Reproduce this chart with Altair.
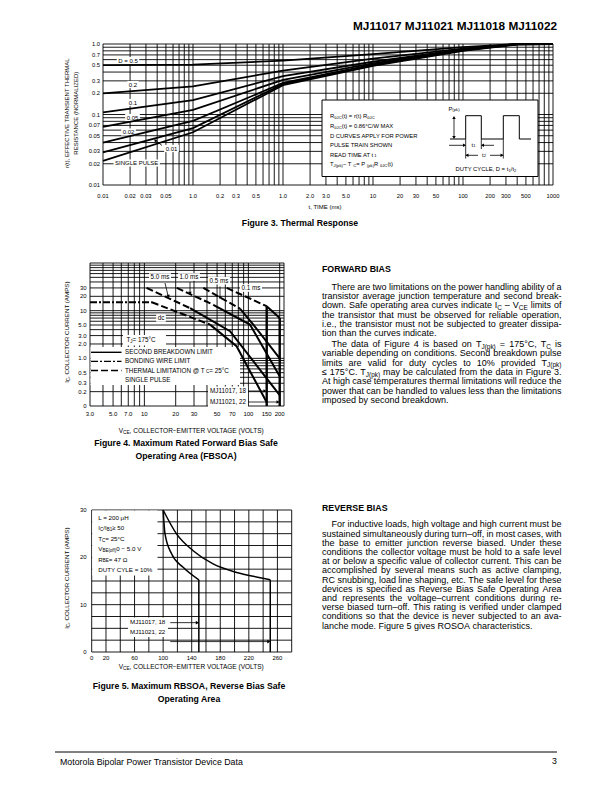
import altair as alt
import pandas as pd

OFF = 8          # page margin: page coordinate -> chart coordinate
FONT = "Liberation Sans"

# ======================= DATA =======================
# ---- Figure 3: thermal response r(t) vs t (ms) ----
T_MS = [0.01, 0.1, 1, 10, 100, 400, 1000]
R_D050 = [0.50, 0.51, 0.58, 0.72, 0.90, 1.0, 1.0]
R_D020 = [0.20, 0.25, 0.42, 0.62, 0.86, 1.0, 1.0]
R_D010 = [0.107, 0.16, 0.35, 0.56, 0.84, 1.0, 1.0]
R_D005 = [0.067, 0.116, 0.31, 0.53, 0.83, 1.0, 1.0]
R_D002 = [0.040, 0.081, 0.28, 0.51, 0.82, 1.0, 1.0]
R_D001 = [0.029, 0.064, 0.27, 0.50, 0.81, 0.99, 1.0]
R_SINGLE = [0.022, 0.056, 0.26, 0.49, 0.80, 0.98, 1.0]
X3_TICKS = [0.01, 0.02, 0.03, 0.05, 0.1, 0.2, 0.3, 0.5, 1, 2, 3, 5, 10, 20, 30, 50, 100, 200, 300, 500, 1000]
X3_LABELS = ["0.01", "0.02", "0.03", "0.05", "1.0", "0.2", "0.3", "0.5", "1.0", "2.0", "3.0", "5.0",
             "10", "20", "30", "50", "100", "200", "300", "500", "1000"]
Y3_TICKS = [0.01, 0.02, 0.03, 0.05, 0.07, 0.1, 0.2, 0.3, 0.5, 0.7, 1.0]
Y3_LABELS = ["0.01", "0.02", "0.03", "0.05", "0.07", "0.1", "0.2", "0.3", "0.5", "0.7", "1.0"]

# ---- Figure 4: FBSOA (VCE volts, IC amps) ----
DC_BOND_V, DC_BOND_I = [3, 11.8], [15, 15]
DC_TH_V, DC_TH_I = [11.8, 42.8], [15, 5.1]
DC_SB_V, DC_SB_I = [42.8, 77, 150], [5.1, 1.8, 0.12]
MS5_TH_V, MS5_TH_I = [10.5, 27.5], [30, 11.3]
MS5_SB_V, MS5_SB_I = [27.5, 66.6, 200], [11.3, 3.7, 0.17]
MS1_TH_V, MS1_TH_I = [20.5, 46], [30, 13.3]
MS1_SB_V, MS1_SB_I = [46, 103.6, 200], [13.3, 5.1, 0.42]
MS05_TH_V, MS05_TH_I = [36.9, 83], [30, 11]
MS05_SB_V, MS05_SB_I = [83, 111.5, 200], [11, 5.1, 1.0]
MS01_TH_V, MS01_TH_I = [61.9, 150], [30, 12.4]
MS01_SB_V, MS01_SB_I = [150, 200], [12.4, 7.0]
LIMIT_V = [150, 200]
LIMIT_TOP = [12.4, 7.0]
X4_TICKS = [3, 5, 7, 10, 20, 30, 50, 70, 100, 150, 200]
X4_LABELS = ["3.0", "5.0", "7.0", "10", "20", "30", "50", "70", "100", "150", "200"]
Y4_TICKS = [30, 20, 10, 5, 3, 2, 1, 0.5, 0.3, 0.2, 0.1]
Y4_LABELS = ["30", "20", "10", "5.0", "3.0", "2.0", "1.0", "0.5", "0.3", "0.2", "0"]

# ---- Figure 5: RBSOA ----
RB17_V = [100, 102.7, 112, 128, 150]
RB17_I = [30, 24.9, 20.7, 17.9, 15.25]
RB21_V = [100, 119, 142, 170, 203, 236, 250]
RB21_I = [30, 24.9, 21.4, 18.6, 16.8, 15.7, 15.25]
X5_TICKS = [0, 20, 60, 100, 140, 180, 220, 260]
Y5_TICKS = [0, 10, 20, 30]

# ---- text ----
FWD_P1 = [
    "There are two limitations on the power handling ability of a",
    "transistor average junction temperature and second break-",
    "down. Safe operating area curves indicate I_{C} – V_{CE} limits of",
    "the transistor that must be observed for reliable operation,",
    "i.e., the transistor must not be subjected to greater dissipa-",
    "tion than the curves indicate.",
]
FWD_P2 = [
    "The data of Figure 4 is based on T_{J(pk)} = 175°C, T_{C} is",
    "variable depending on conditions. Second breakdown pulse",
    "limits are valid for duty cycles to 10% provided T_{J(pk)}",
    "≤ 175°C. T_{J(pk)} may be calculated from the data in Figure 3.",
    "At high case temperatures thermal limitations will reduce the",
    "power that can be handled to values less than the limitations",
    "imposed by second breakdown.",
]
REV_P1 = [
    "For inductive loads, high voltage and high current must be",
    "sustained simultaneously during turn–off, in most cases, with",
    "the base to emitter junction reverse biased. Under these",
    "conditions the collector voltage must be hold to a safe level",
    "at or below a specific value of collector current. This can be",
    "accomplished by several means such as active clamping,",
    "RC snubbing, load line shaping, etc. The safe level for these",
    "devices is specified as Reverse Bias Safe Operating Area",
    "and represents the voltage–current conditions during re-",
    "verse biased turn–off. This rating is verified under clamped",
    "conditions so that the device is never subjected to an ava-",
    "lanche mode. Figure 5 gives ROSOA characteristics.",
]
INSET3 = ["R_{θJC}(t) = r(t) R_{θJC}", "R_{θJC}(t) = 0.86°C/W MAX", "D CURVES APPLY FOR POWER",
          "PULSE TRAIN SHOWN", "READ TIME AT t_{1}", "T_{J(pk)} − T_{C} = P_{(pk)} R_{θJC}(t)"]
LEGEND4 = ["SECOND BREAKDOWN LIMIT", "BONDING WIRE LIMIT", "THERMAL LIMITATION @ T_{C} = 25°C", "SINGLE PULSE"]
LEGEND5 = ["L = 200 μH", "I_{C}/I_{B1} ≥ 50", "T_{C} = 25°C", "V_{BE(off)} 0 − 5.0 V", "R_{BE} = 47 Ω",
           "DUTY CYLE = 10%"]

# ======================= TEXT METRICS =======================
W = {}
for ch, w in zip(" !\"#$%&'()*+,-./", [278, 278, 355, 556, 556, 889, 667, 191, 333, 333, 389, 584, 278, 333, 278, 278]):
    W[ch] = w
for ch in "0123456789":
    W[ch] = 556
W.update({':': 278, ';': 278, '<': 584, '=': 584, '>': 584, '?': 556, '@': 1015})
W.update(dict(zip("ABCDEFGHIJKLMNOPQRSTUVWXYZ",
                  [667, 667, 722, 722, 667, 611, 778, 722, 278, 500, 667, 556, 833, 722, 778, 667, 778, 722, 667,
                   611, 722, 667, 944, 667, 667, 611])))
W.update(dict(zip("abcdefghijklmnopqrstuvwxyz",
                  [556, 556, 500, 556, 556, 278, 556, 556, 222, 222, 500, 222, 833, 556, 556, 556, 556, 333, 500,
                   278, 556, 500, 722, 500, 500, 500])))
W.update({'°': 400, '–': 556, '—': 1000, '−': 584, '≤': 549, '≥': 549, 'θ': 556, 'μ': 576, 'Ω': 768})
SUB = 0.72


def str_w(s, fs):
    return sum(W.get(c, 556) for c in s) * fs / 1000.0


def parse_runs(s):
    runs, buf, i = [], "", 0
    while i < len(s):
        if s.startswith("_{", i):
            if buf:
                runs.append((buf, False))
                buf = ""
            j = s.index("}", i)
            runs.append((s[i + 2:j], True))
            i = j + 1
        else:
            buf += s[i]
            i += 1
    if buf:
        runs.append((buf, False))
    return runs


def runs_w(runs, fs):
    return sum(str_w(t, fs * SUB if sub else fs) for t, sub in runs)


REG = []


def put(s, x, y, fs, anchor="left", angle=0):
    runs = parse_runs(s)
    w = runs_w(runs, fs)
    pos = {"left": 0.0, "center": -w / 2, "right": -w}[anchor]
    for t, sub in runs:
        f = fs * SUB if sub else fs
        dy = 0.3 * fs if sub else 0.0
        if angle == 0:
            px, py = x + pos, y + dy
        else:
            px, py = x + dy, y - pos
        REG.append({"px": px - OFF, "py": py - OFF, "t": t, "fs": f, "ang": angle})
        pos += str_w(t, f)
    return w


def paragraph(lines, y0, step, fs=9.0, x0=322.0, x1=561.5, indent=9.5):
    for i, line in enumerate(lines):
        y = y0 + i * step
        xs = x0 + (indent if i == 0 else 0)
        words = line.split(" ")
        widths = [runs_w(parse_runs(w), fs) for w in words]
        if i < len(lines) - 1 and len(words) > 1:
            gap = (x1 - xs - sum(widths)) / (len(words) - 1)
        else:
            gap = W[" "] * fs / 1000
        x = xs
        for w, wd in zip(words, widths):
            put(w, x, y, fs)
            x += wd + gap


BOLD = []


def bold(s, x, y, fs, align):
    BOLD.append({"px": x - OFF, "py": y - OFF, "t": s, "fs": fs, "al": align})


WHITE = []


def white_box(x0, y0, x1, y1):
    WHITE.append({"x0": x0 - OFF, "y0": y0 - OFF, "x1": x1 - OFF, "y1": y1 - OFF})


def label(s, cx, cy, fs, pad=1.5):
    w = runs_w(parse_runs(s), fs)
    white_box(cx - w / 2 - pad, cy - fs * 0.6, cx + w / 2 + pad, cy + fs * 0.6)
    put(s, cx, cy, fs, "center")


POLY = []          # (group, style) polylines in page coordinates


def poly(pts, style="solid", sw=1.0):
    g = len(POLY)
    POLY.append((g, style, sw, pts))


HEADS = []


def head(x, y, shape, ang=0):
    HEADS.append({"px": x - OFF, "py": y - OFF, "shp": shape, "ang": ang})


# ======================= SCALES =======================
xs3 = alt.Scale(type="log", domain=[0.01, 1000], range=[103 - OFF, 553 - OFF], nice=False)
ys3 = alt.Scale(type="log", domain=[0.01, 1.0], range=[185 - OFF, 44 - OFF], nice=False)
xs4 = alt.Scale(type="log", domain=[3, 220], range=[90 - OFF, 284 - OFF], nice=False)
ys4 = alt.Scale(type="log", domain=[0.1, 100], range=[406 - OFF, 263 - OFF], nice=False)
xs5 = alt.Scale(type="linear", domain=[0, 280], range=[91.7 - OFF, 291.7 - OFF], nice=False, zero=False)
ys5 = alt.Scale(type="linear", domain=[0, 30], range=[652 - OFF, 510 - OFF], nice=False, zero=False)


def vgrid(vals, xs, ys, lo, hi, sw=0.9):
    df = pd.DataFrame({"v": vals, "lo": lo, "hi": hi})
    return alt.Chart(df).mark_rule(color="black", strokeWidth=sw).encode(
        x=alt.X("v:Q", scale=xs, axis=None), y=alt.Y("lo:Q", scale=ys, axis=None), y2="hi:Q")


def hgrid(vals, xs, ys, lo, hi, sw=0.9):
    df = pd.DataFrame({"v": vals, "lo": lo, "hi": hi})
    return alt.Chart(df).mark_rule(color="black", strokeWidth=sw).encode(
        y=alt.Y("v:Q", scale=ys, axis=None), x=alt.X("lo:Q", scale=xs, axis=None), x2="hi:Q")


def curves(series, xs, ys, sw, dash=None, interp="linear"):
    rows = []
    for name, xv, yv in series:
        for k, (a, b) in enumerate(zip(xv, yv)):
            rows.append({"s": name, "k": k, "x": a, "y": b})
    mk = dict(color="black", strokeWidth=sw, interpolate=interp, strokeCap="butt")
    if dash:
        mk["strokeDash"] = dash
    return alt.Chart(pd.DataFrame(rows)).mark_line(**mk).encode(
        x=alt.X("x:Q", scale=xs, axis=None), y=alt.Y("y:Q", scale=ys, axis=None),
        detail="s:N", order="k:Q")


def xticks(vals, labels, xs, ypage, fs):
    df = pd.DataFrame({"v": vals, "lab": labels})
    return alt.Chart(df).mark_text(font=FONT, fontSize=fs, align="center", baseline="middle",
                                   color="black").encode(
        x=alt.X("v:Q", scale=xs, axis=None), y=alt.value(ypage - OFF), text="lab:N")


def yticks(vals, labels, ys, xpage, fs):
    df = pd.DataFrame({"v": vals, "lab": labels})
    return alt.Chart(df).mark_text(font=FONT, fontSize=fs, align="right", baseline="middle",
                                   color="black").encode(
        y=alt.Y("v:Q", scale=ys, axis=None), x=alt.value(xpage - OFF), text="lab:N")


def decades(lo_exp, hi_exp):
    out = []
    for e in range(lo_exp, hi_exp + 1):
        for m in range(1, 10):
            out.append(round(m * 10.0 ** e, 6))
    return out


# ======================= LAYERS =======================
layers = []

# ---- grids ----
T_GRID3 = decades(-2, 2) + [1000]
R_GRID3 = decades(-2, -1) + [1.0]
layers.append(vgrid(T_GRID3, xs3, ys3, 0.01, 1.0))
layers.append(hgrid(R_GRID3, xs3, ys3, 0.01, 1000))

V_GRID4 = [v for v in decades(0, 2) if 3 <= v <= 220] + [220]
I_GRID4 = decades(-1, 1) + [100]
layers.append(vgrid(V_GRID4, xs4, ys4, 0.1, 100))
layers.append(hgrid(I_GRID4, xs4, ys4, 3, 220))

V_GRID5 = list(range(0, 281, 20))
I_GRID5 = [i * 2.5 for i in range(13)]
layers.append(vgrid(V_GRID5, xs5, ys5, 0, 30))
layers.append(hgrid(I_GRID5, xs5, ys5, 0, 280))

# ---- annotations (white label boxes, texts) ----
# Figure 3 curve labels
for s, cx, cy in [("D = 0.5", 128, 60.5), ("0.2", 133, 84.5), ("0.1", 133, 102.5), ("0.05", 132.5, 117.5),
                  ("0.02", 128.5, 132), ("0.01", 171.5, 148.5), ("SINGLE PULSE", 136.7, 163)]:
    label(s, cx, cy, 6.0)
poly([(162, 145.5), (155.5, 140.5)], sw=0.8)
head(155.2, 140.2, "triangle-up", 315)

# Figure 3 inset
for i, s in enumerate(INSET3):
    put(s, 330, 116.3 + i * 9.6, 5.85)
poly([(450, 139), (465.7, 139), (465.7, 115.7), (481.3, 115.7), (481.3, 139), (503.3, 139), (503.3, 115.7),
      (519.3, 115.7), (519.3, 139), (531, 139)], sw=1.0)
poly([(454, 117), (454, 138)], sw=0.8)
head(454, 117.5, "triangle-up")
head(454, 137.5, "triangle-down")
poly([(465.7, 139), (465.7, 158.5)], sw=0.8)
poly([(481.3, 139), (481.3, 149)], sw=0.8)
poly([(503.3, 139), (503.3, 158.5)], sw=0.8)
poly([(449, 145.3), (465, 145.3)], sw=0.8)
poly([(482, 145.3), (494, 145.3)], sw=0.8)
head(464.5, 145.3, "triangle-right")
head(482.5, 145.3, "triangle-left")
poly([(466, 155.3), (478, 155.3)], sw=0.8)
poly([(490, 155.3), (503, 155.3)], sw=0.8)
head(467, 155.3, "triangle-left")
head(502, 155.3, "triangle-right")
put("P_{(pk)}", 454, 108.5, 5.85, "center")
put("t_{1}", 473.5, 144.5, 5.85, "center")
put("t_{2}", 484, 154.5, 5.85, "center")
put("DUTY CYCLE, D = t_{1}/t_{2}", 486, 169, 5.85, "center")

# Figure 3 axis titles
put("r(t), EFFECTIVE TRANSIENT THERMAL", 67.3, 113, 6.0, "center", 270)
put("RESISTANCE (NORMALIZED)", 76, 113, 6.0, "center", 270)
put("t, TIME (ms)", 325, 207, 6.0, "center")

# Figure 4 labels
for s, cx, cy in [("5.0 ms", 160, 277), ("1.0 ms", 189, 277), ("0.5 ms", 219, 280.7), ("0.1 ms", 251, 288),
                  ("dc", 161, 318)]:
    label(s, cx, cy, 6.3)
poly([(165, 283), (168, 295.5)], sw=0.8)
head(168.3, 296.3, "triangle-down")
poly([(190, 282), (190, 292.5)], sw=0.8)
head(190, 293.3, "triangle-down")
poly([(220, 286.5), (220, 297)], sw=0.8)
head(220, 297.8, "triangle-down")
white_box(123, 335, 166, 345.5)
put("T_{J} = 175°C", 126.5, 340, 6.3)
white_box(90.5, 347, 240, 385)
for i, s in enumerate(LEGEND4):
    put(s, 125, 352.3 + i * 9.1, 6.3)
poly([(91, 352.3), (121.5, 352.3)], "solid", 1.4)
poly([(91, 361.4), (121.5, 361.4)], "dashdot", 1.4)
poly([(91, 370.5), (121.5, 370.5)], "dash", 1.4)
white_box(208, 386.5, 248, 407)
put("MJ11017, 18", 210, 391, 6.3)
put("MJ11021, 22", 210, 402, 6.3)
poly([(248, 391), (264.5, 391)], sw=0.8)
head(265, 391, "triangle-right")
poly([(248, 402), (277.5, 402)], sw=0.8)
head(278, 402, "triangle-right")
put("I_{C}, COLLECTOR CURRENT (AMPS)", 67, 332, 6.2, "center", 270)
put("V_{CE}, COLLECTOR−EMITTER VOLTAGE (VOLTS)", 192, 431, 6.5, "center")

# Figure 5 labels
white_box(92.2, 510.5, 157.5, 575.5)
for i, s in enumerate(LEGEND5):
    put(s, 98.3, 518 + i * 10.4, 6.2)
white_box(128, 617.5, 168, 637)
put("MJ11017, 18", 130, 622.3, 6.2)
put("MJ11021, 22", 130, 632, 6.2)
put("I_{C}, COLLECTOR CURRENT (AMPS)", 67, 578, 6.2, "center", 270)
put("V_{CE}, COLLECTOR−EMITTER VOLTAGE (VOLTS)", 192, 667, 6.5, "center")

# page text
bold("MJ11017 MJ11021 MJ11018 MJ11022", 557, 26, 11.8, "right")
bold("Figure 3. Thermal Response", 300, 223, 8.7, "center")
bold("Figure 4. Maximum Rated Forward Bias Safe", 186, 443, 8.7, "center")
bold("Operating Area (FBSOA)", 186, 456, 8.7, "center")
bold("Figure 5. Maximum RBSOA, Reverse Bias Safe", 189, 686, 8.7, "center")
bold("Operating Area", 189, 699, 8.7, "center")
bold("FORWARD BIAS", 322, 268.5, 8.8, "left")
bold("REVERSE BIAS", 322, 507.5, 8.8, "left")
paragraph(FWD_P1, 286.7, 9.3)
paragraph(FWD_P2, 344.0, 9.3)
paragraph(REV_P1, 524.3, 9.2)
poly([(55, 752), (557, 752)], sw=1.0)
put("Motorola Bipolar Power Transistor Device Data", 60, 762, 8.8)
put("3", 557, 761, 8.8, "right")

# white boxes (below curves, above grid)
layers.append(alt.Chart(pd.DataFrame(WHITE)).mark_rect(fill="white", opacity=1, strokeWidth=0).encode(
    x=alt.X("x0:Q", scale=None, axis=None), x2="x1:Q",
    y=alt.Y("y0:Q", scale=None, axis=None), y2="y1:Q"))
# figure 3 inset frame
inset = pd.DataFrame([{"x0": 322 - OFF, "y0": 100 - OFF, "x1": 538 - OFF, "y1": 176.5 - OFF}])
layers.append(alt.Chart(inset).mark_rect(fill="white", stroke="black", strokeWidth=1, opacity=1).encode(
    x=alt.X("x0:Q", scale=None, axis=None), x2="x1:Q",
    y=alt.Y("y0:Q", scale=None, axis=None), y2="y1:Q"))

# ---- curves ----
layers.append(curves([("D=0.5", T_MS, R_D050), ("D=0.2", T_MS, R_D020), ("D=0.1", T_MS, R_D010),
                      ("D=0.05", T_MS, R_D005), ("D=0.02", T_MS, R_D002), ("D=0.01", T_MS, R_D001),
                      ("single", T_MS, R_SINGLE)], xs3, ys3, 1.8))

layers.append(curves([("dc", DC_SB_V, DC_SB_I), ("5ms", MS5_SB_V, MS5_SB_I), ("1ms", MS1_SB_V, MS1_SB_I),
                      ("0.5ms", MS05_SB_V, MS05_SB_I), ("0.1ms", MS01_SB_V, MS01_SB_I)], xs4, ys4, 2.0))
layers.append(curves([("dc", DC_TH_V, DC_TH_I), ("5ms", MS5_TH_V, MS5_TH_I), ("1ms", MS1_TH_V, MS1_TH_I),
                      ("0.5ms", MS05_TH_V, MS05_TH_I), ("0.1ms", MS01_TH_V, MS01_TH_I)], xs4, ys4, 2.0,
                     dash=[7, 3]))
layers.append(curves([("dc", DC_BOND_V, DC_BOND_I)], xs4, ys4, 2.0, dash=[7, 2, 2, 2]))
lim = pd.DataFrame({"v": LIMIT_V, "lo": 0.1, "hi": LIMIT_TOP})
layers.append(alt.Chart(lim).mark_rule(color="black", strokeWidth=2.4).encode(
    x=alt.X("v:Q", scale=xs4, axis=None), y=alt.Y("lo:Q", scale=ys4, axis=None), y2="hi:Q"))

layers.append(curves([("MJ11017", RB17_V, RB17_I), ("MJ11021", RB21_V, RB21_I)], xs5, ys5, 1.5,
                     interp="monotone"))
drops = pd.DataFrame({"v": [RB17_V[-1], RB21_V[-1]], "lo": 0, "hi": [RB17_I[-1], RB21_I[-1]]})
layers.append(alt.Chart(drops).mark_rule(color="black", strokeWidth=1.5).encode(
    x=alt.X("v:Q", scale=xs5, axis=None), y=alt.Y("lo:Q", scale=ys5, axis=None), y2="hi:Q"))
arr5 = pd.DataFrame({"s": ["a", "a", "b", "b"], "k": [0, 1, 0, 1], "v": [110, 148, 110, 248],
                     "i": [6.2, 6.2, 2.2, 2.2]})
layers.append(alt.Chart(arr5).mark_line(color="black", strokeWidth=0.8).encode(
    x=alt.X("v:Q", scale=xs5, axis=None), y=alt.Y("i:Q", scale=ys5, axis=None), detail="s:N", order="k:Q"))
tips5 = pd.DataFrame({"v": [148, 248], "i": [6.2, 2.2]})
layers.append(alt.Chart(tips5).mark_point(shape="triangle-right", filled=True, color="black", size=14,
                                          opacity=1).encode(
    x=alt.X("v:Q", scale=xs5, axis=None), y=alt.Y("i:Q", scale=ys5, axis=None)))

# ---- pixel polylines ----
DASH = {"solid": None, "dash": [7, 3], "dashdot": [7, 2, 2, 2]}
for style in ["solid", "dash", "dashdot"]:
    for sw in sorted(set(p[2] for p in POLY if p[1] == style)):
        rows = []
        for g, st, w, pts in POLY:
            if st == style and w == sw:
                for k, (x, y) in enumerate(pts):
                    rows.append({"g": g, "k": k, "px": x - OFF, "py": y - OFF})
        mk = dict(color="black", strokeWidth=sw, strokeCap="butt")
        if DASH[style]:
            mk["strokeDash"] = DASH[style]
        layers.append(alt.Chart(pd.DataFrame(rows)).mark_line(**mk).encode(
            x=alt.X("px:Q", scale=None, axis=None), y=alt.Y("py:Q", scale=None, axis=None),
            detail="g:N", order="k:Q"))

layers.append(alt.Chart(pd.DataFrame(HEADS)).mark_point(filled=True, color="black", size=12, opacity=1).encode(
    x=alt.X("px:Q", scale=None, axis=None), y=alt.Y("py:Q", scale=None, axis=None),
    shape=alt.Shape("shp:N", scale=None), angle=alt.Angle("ang:Q", scale=None)))

# ---- tick labels ----
layers.append(xticks(X3_TICKS, X3_LABELS, xs3, 196, 5.8))
layers.append(yticks(Y3_TICKS, Y3_LABELS, ys3, 100, 5.8))
layers.append(xticks(X4_TICKS, X4_LABELS, xs4, 414, 6.0))
layers.append(yticks(Y4_TICKS, Y4_LABELS, ys4, 86.7, 6.0))
layers.append(xticks(X5_TICKS, [str(v) for v in X5_TICKS], xs5, 658, 6.0))
layers.append(yticks(Y5_TICKS, [str(v) for v in Y5_TICKS], ys5, 86.7, 6.0))

# ---- texts ----
layers.append(alt.Chart(pd.DataFrame(REG)).mark_text(font=FONT, align="left", baseline="middle",
                                                     color="black").encode(
    x=alt.X("px:Q", scale=None, axis=None), y=alt.Y("py:Q", scale=None, axis=None), text="t:N",
    size=alt.Size("fs:Q", scale=None), angle=alt.Angle("ang:Q", scale=None)))
bdf = pd.DataFrame(BOLD)
for al in ["left", "center", "right"]:
    sub = bdf[bdf["al"] == al]
    layers.append(alt.Chart(sub).mark_text(font=FONT, fontWeight="bold", align=al, baseline="middle",
                                           color="black").encode(
        x=alt.X("px:Q", scale=None, axis=None), y=alt.Y("py:Q", scale=None, axis=None), text="t:N",
        size=alt.Size("fs:Q", scale=None)))

chart = alt.layer(*layers).resolve_scale(x="independent", y="independent").properties(
    width=596, height=776, padding=0, autosize=alt.AutoSizeParams(type="none"),
    background="white").configure_view(strokeWidth=0)

chart.save("out.html", embed_options={"renderer": "svg", "actions": False})
